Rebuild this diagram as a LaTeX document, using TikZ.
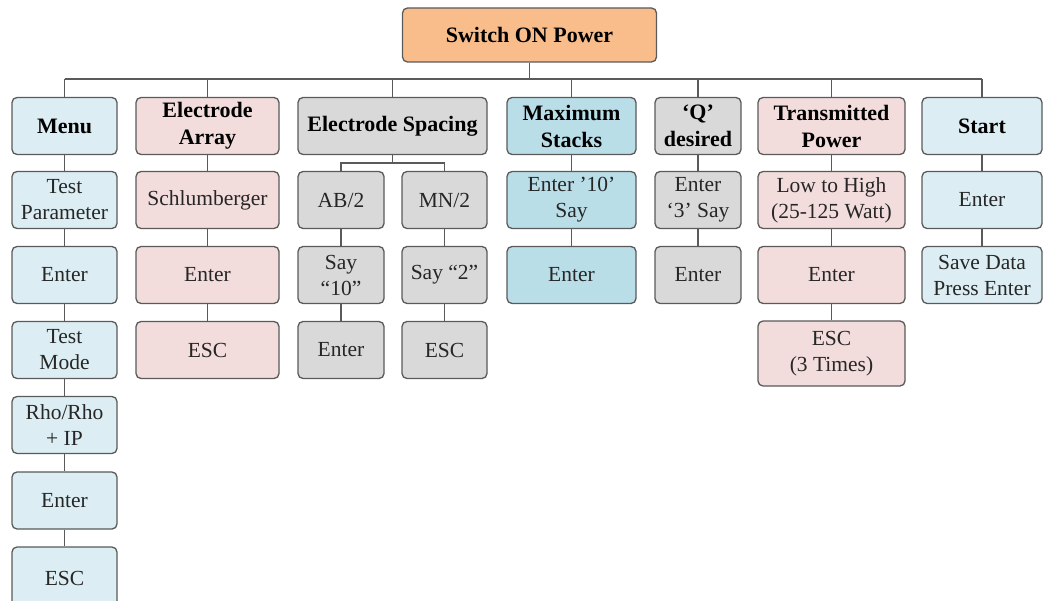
\documentclass[tikz,border=0pt]{standalone}
\usepackage{fontspec}
\setmainfont{Liberation Serif}
\definecolor{cLB}{HTML}{DCEEF3}
\definecolor{cPK}{HTML}{F2DCDC}
\definecolor{cGR}{HTML}{D9D9D9}
\definecolor{cBL}{HTML}{B9DEE8}
\definecolor{cOR}{HTML}{F9BD8C}
\definecolor{cBD}{HTML}{5A5A5A}
\definecolor{cTX}{HTML}{262626}
\tikzset{
  bx/.style={draw=cBD, line width=1.3pt, rounded corners=5pt, align=center,
    inner sep=1pt, font=\fontsize{21.5}{26}\selectfont, text=cTX, minimum height=57pt},
  hd/.style={bx, font=\fontsize{22}{27}\selectfont\bfseries, text=black},
  lnk/.style={draw=cBD, line width=1.3pt}
}
\begin{document}
\begin{tikzpicture}[x=1pt,y=-1pt]
\useasboundingbox[fill=white] (0,0) rectangle (1051,601);
% top
\node[hd, fill=cOR, minimum width=254pt, minimum height=54pt] (top) at (529.5,35) {Switch ON Power};
\coordinate (bus) at (0,79);
% row 1
\node[hd, fill=cLB, minimum width=105pt] (menu) at (64.5,126) {Menu};
\node[hd, fill=cPK, minimum width=143pt] (arr) at (207.5,126) {Electrode\\Array};
\node[hd, fill=cGR, minimum width=189pt] (spc) at (392.5,126) {Electrode Spacing};
\node[hd, fill=cBL, minimum width=129pt] (max) at (571.5,126) {Maximum\\Stacks};
\node[hd, fill=cGR, minimum width=86pt] (q) at (698,126) {‘Q’\\desired};
\node[hd, fill=cPK, minimum width=147pt] (tp) at (831.5,126) {Transmitted\\Power};
\node[hd, fill=cLB, minimum width=120pt] (st) at (982,126) {Start};
% row 2
\node[bx, fill=cLB, minimum width=105pt] (m2) at (64.5,200) {Test\\Parameter};
\node[bx, fill=cPK, minimum width=143pt] (a2) at (207.5,200) {Schlumberger};
\node[bx, fill=cGR, minimum width=86pt] (ab) at (341,200) {AB/2};
\node[bx, fill=cGR, minimum width=85pt] (mn) at (444.5,200) {MN/2};
\node[bx, fill=cBL, minimum width=129pt] (x2) at (571.5,200) {Enter ’10’\\Say};
\node[bx, fill=cGR, minimum width=86pt] (q2) at (698,200) {Enter\\‘3’ Say};
\node[bx, fill=cPK, minimum width=147pt] (t2) at (831.5,200) {Low to High\\(25-125 Watt)};
\node[bx, fill=cLB, minimum width=120pt] (s2) at (982,200) {Enter};
% row 3
\node[bx, fill=cLB, minimum width=105pt] (m3) at (64.5,275) {Enter};
\node[bx, fill=cPK, minimum width=143pt] (a3) at (207.5,275) {Enter};
\node[bx, fill=cGR, minimum width=86pt] (ab3) at (341,275) {Say\\“10”};
\node[bx, fill=cGR, minimum width=85pt] (mn3) at (444.5,275) {Say “2”};
\node[bx, fill=cBL, minimum width=129pt] (x3) at (571.5,275) {Enter};
\node[bx, fill=cGR, minimum width=86pt] (q3) at (698,275) {Enter};
\node[bx, fill=cPK, minimum width=147pt] (t3) at (831.5,275) {Enter};
\node[bx, fill=cLB, minimum width=120pt] (s3) at (982,275) {Save Data\\Press Enter};
% row 4
\node[bx, fill=cLB, minimum width=105pt] (m4) at (64.5,350) {Test\\Mode};
\node[bx, fill=cPK, minimum width=143pt] (a4) at (207.5,350) {ESC};
\node[bx, fill=cGR, minimum width=86pt] (ab4) at (341,350) {Enter};
\node[bx, fill=cGR, minimum width=85pt] (mn4) at (444.5,350) {ESC};
\node[bx, fill=cPK, minimum width=147pt, minimum height=65pt] (t4) at (831.5,353.5) {ESC\\(3 Times)};
% rows 5-7
\node[bx, fill=cLB, minimum width=105pt] (m5) at (64.5,425) {Rho/Rho\\+ IP};
\node[bx, fill=cLB, minimum width=105pt] (m6) at (64.5,500.5) {Enter};
\node[bx, fill=cLB, minimum width=105pt, minimum height=62pt] (m7) at (64.5,578) {ESC};
% bus connectors
\draw[lnk] (top.south) -- (top.south |- bus);
\draw[lnk] (menu.north |- bus) -- (st.north |- bus);
\foreach \c in {menu,arr,spc,max,q,tp,st}
  \draw[lnk] (\c.north |- bus) -- (\c.north);
% sub bus
\coordinate (sbus) at (0,163);
\draw[lnk] (spc.south) -- (spc.south |- sbus);
\draw[lnk] (ab.north) |- (sbus -| mn.north) -- (mn.north);
% column links
\draw[lnk] (menu) -- (m2); \draw[lnk] (m2) -- (m3); \draw[lnk] (m3) -- (m4);
\draw[lnk] (m4) -- (m5); \draw[lnk] (m5) -- (m6); \draw[lnk] (m6) -- (m7);
\draw[lnk] (arr) -- (a2); \draw[lnk] (a2) -- (a3); \draw[lnk] (a3) -- (a4);
\draw[lnk] (ab) -- (ab3); \draw[lnk] (ab3) -- (ab4);
\draw[lnk] (mn) -- (mn3); \draw[lnk] (mn3) -- (mn4);
\draw[lnk] (max) -- (x2); \draw[lnk] (x2) -- (x3);
\draw[lnk] (q) -- (q2); \draw[lnk] (q2) -- (q3);
\draw[lnk] (tp) -- (t2); \draw[lnk] (t2) -- (t3); \draw[lnk] (t3) -- (t4);
\draw[lnk] (st) -- (s2); \draw[lnk] (s2) -- (s3);
\end{tikzpicture}
\end{document}
